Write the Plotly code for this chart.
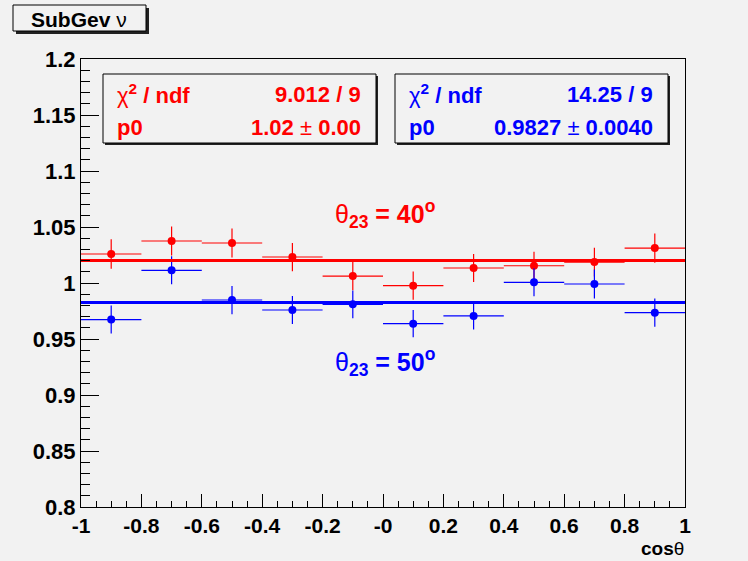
import plotly.graph_objects as go

# Bin centres in cos(theta) and half bin width
cos_theta = [-0.9, -0.7, -0.5, -0.3, -0.1, 0.1, 0.3, 0.5, 0.7, 0.9]
bin_half = 0.1

# theta23 = 40 deg ratio and errors
ratio_40 = [1.0259, 1.0375, 1.0357, 1.0232, 1.0062, 0.9976, 1.0134, 1.0154, 1.0187, 1.0312]
err_40 = [0.0131, 0.0130, 0.0129, 0.0126, 0.0126, 0.0126, 0.0125, 0.0125, 0.0128, 0.0131]

# theta23 = 50 deg ratio and errors
ratio_50 = [0.9673, 1.0113, 0.9848, 0.9759, 0.9810, 0.9637, 0.9706, 1.0006, 0.9991, 0.9735]
err_50 = [0.0125, 0.0125, 0.0126, 0.0125, 0.0124, 0.0122, 0.0122, 0.0125, 0.0129, 0.0126]

# Constant (pol0) fit results
fit_40 = {"chi2": "9.012", "ndf": 9, "p0": 1.02, "p0_txt": "1.02 ± 0.00"}
fit_50 = {"chi2": "14.25", "ndf": 9, "p0": 0.9827, "p0_txt": "0.9827 ± 0.0040"}

x_ticks = [-1, -0.8, -0.6, -0.4, -0.2, 0, 0.2, 0.4, 0.6, 0.8, 1]
x_ticktext = ["-1", "-0.8", "-0.6", "-0.4", "-0.2", "-0", "0.2", "0.4", "0.6", "0.8", "1"]
y_ticks = [0.8, 0.85, 0.9, 0.95, 1.0, 1.05, 1.1, 1.15, 1.2]
y_ticktext = ["0.8", "0.85", "0.9", "0.95", "1", "1.05", "1.1", "1.15", "1.2"]

RED = "#ff0000"
BLUE = "#0000ff"
BG = "#f2f2f2"
FONT = "Liberation Sans, Arial, Helvetica, sans-serif"
NARROW = "Liberation Sans Narrow, Liberation Sans, Arial, sans-serif"

W, H = 748, 561
ML, MR, MT, MB = 81, 63, 59, 54
PW, PH = W - ML - MR, H - MT - MB


def px_x(p):
    return (p - ML) / PW


def px_y(p):
    return (H - MB - p) / PH


fig = go.Figure()


def add_points(y, err, color):
    fig.add_trace(go.Scatter(
        x=cos_theta, y=y, mode="markers",
        marker=dict(symbol="circle", size=8, color=color),
        error_x=dict(type="constant", value=bin_half, thickness=1.2, width=0, color=color),
        error_y=dict(type="data", array=err, thickness=1.2, width=0, color=color),
        showlegend=False, hoverinfo="x+y",
    ))


add_points(ratio_40, err_40, RED)
add_points(ratio_50, err_50, BLUE)

for fit, color in ((fit_40, RED), (fit_50, BLUE)):
    fig.add_trace(go.Scatter(
        x=[x_ticks[0], x_ticks[-1]], y=[fit["p0"], fit["p0"]], mode="lines",
        line=dict(color=color, width=3), showlegend=False, hoverinfo="y",
    ))

shapes = []
annotations = []


def box(x0, y0, x1, y1, shadow=2):
    shapes.append(dict(type="rect", xref="paper", yref="paper",
                       x0=px_x(x0 + shadow), x1=px_x(x1 + shadow),
                       y0=px_y(y0 + shadow), y1=px_y(y1 + shadow),
                       line=dict(width=0), fillcolor="#222222", layer="above"))
    shapes.append(dict(type="rect", xref="paper", yref="paper",
                       x0=px_x(x0), x1=px_x(x1), y0=px_y(y0), y1=px_y(y1),
                       line=dict(width=1, color="#000000"), fillcolor=BG, layer="above"))


# Title box
box(13, 5, 146, 31, shadow=3)
annotations.append(dict(xref="paper", yref="paper", x=px_x(79), y=px_y(19),
                        xanchor="center", yanchor="middle", showarrow=False,
                        text="<b>SubGev</b> ν", font=dict(family=FONT, size=21, color="black")))

# Fit statistics boxes
for fit, color, (bx0, bx1) in ((fit_40, RED, (103, 376)), (fit_50, BLUE, (395, 668))):
    box(bx0, 74, bx1, 143)
    annotations.append(dict(xref="paper", yref="paper", x=px_x(bx0 + 12), y=px_y(94),
                            xanchor="left", yanchor="middle", showarrow=False,
                            text="χ<b><sup>2</sup> / ndf</b>",
                            font=dict(family=FONT, size=22, color=color)))
    annotations.append(dict(xref="paper", yref="paper", x=px_x(bx1 - 13), y=px_y(94),
                            xanchor="right", yanchor="middle", showarrow=False,
                            text="<b>%s / %d</b>" % (fit["chi2"], fit["ndf"]),
                            font=dict(family=FONT, size=22, color=color)))
    annotations.append(dict(xref="paper", yref="paper", x=px_x(bx0 + 12), y=px_y(127),
                            xanchor="left", yanchor="middle", showarrow=False,
                            text="<b>p0</b>", font=dict(family=FONT, size=22, color=color)))
    val, pm_err = fit["p0_txt"].split(" ± ")
    annotations.append(dict(xref="paper", yref="paper", x=px_x(bx1 - 13), y=px_y(127),
                            xanchor="right", yanchor="middle", showarrow=False,
                            text="<b>%s</b> ± <b>%s</b>" % (val, pm_err),
                            font=dict(family=FONT, size=22, color=color)))

# Mixing angle labels
annotations.append(dict(xref="x", yref="paper", x=0.005, y=px_y(214),
                        xanchor="center", yanchor="middle", showarrow=False,
                        text="θ<b><sub>23</sub> = 40<sup>o</sup></b>",
                        font=dict(family=FONT, size=25, color=RED)))
annotations.append(dict(xref="x", yref="paper", x=0.005, y=px_y(362),
                        xanchor="center", yanchor="middle", showarrow=False,
                        text="θ<b><sub>23</sub> = 50<sup>o</sup></b>",
                        font=dict(family=FONT, size=25, color=BLUE)))

# Axis title
annotations.append(dict(xref="paper", yref="paper", x=px_x(686), y=px_y(548),
                        xanchor="right", yanchor="middle", showarrow=False,
                        text="<b>cos</b>θ", font=dict(family=FONT, size=19, color="black")))

fig.update_layout(
    width=W, height=H,
    margin=dict(l=ML, r=MR, t=MT, b=MB, pad=0),
    paper_bgcolor=BG, plot_bgcolor=BG,
    shapes=shapes, annotations=annotations,
    showlegend=False,
)

fig.update_xaxes(
    range=[-1, 1], showgrid=False, zeroline=False,
    showline=True, linecolor="black", linewidth=1, mirror=True,
    tickmode="array", tickvals=x_ticks, ticktext=x_ticktext,
    ticks="inside", ticklen=13, tickcolor="black", tickwidth=1,
    minor=dict(ticks="inside", ticklen=6, dtick=0.05, tickcolor="black", tickwidth=1, showgrid=False),
    tickfont=dict(family=NARROW, size=21, color="black", weight="bold"),
)
fig.update_yaxes(
    range=[0.8, 1.2], showgrid=False, zeroline=False,
    showline=True, linecolor="black", linewidth=1, mirror=True,
    tickmode="array", tickvals=y_ticks, ticktext=y_ticktext,
    ticks="inside", ticklen=18, tickcolor="black", tickwidth=1,
    minor=dict(ticks="inside", ticklen=9, dtick=0.01, tickcolor="black", tickwidth=1, showgrid=False),
    tickfont=dict(family=FONT, size=22, color="black", weight="bold"),
)

fig.write_html("out.html")
